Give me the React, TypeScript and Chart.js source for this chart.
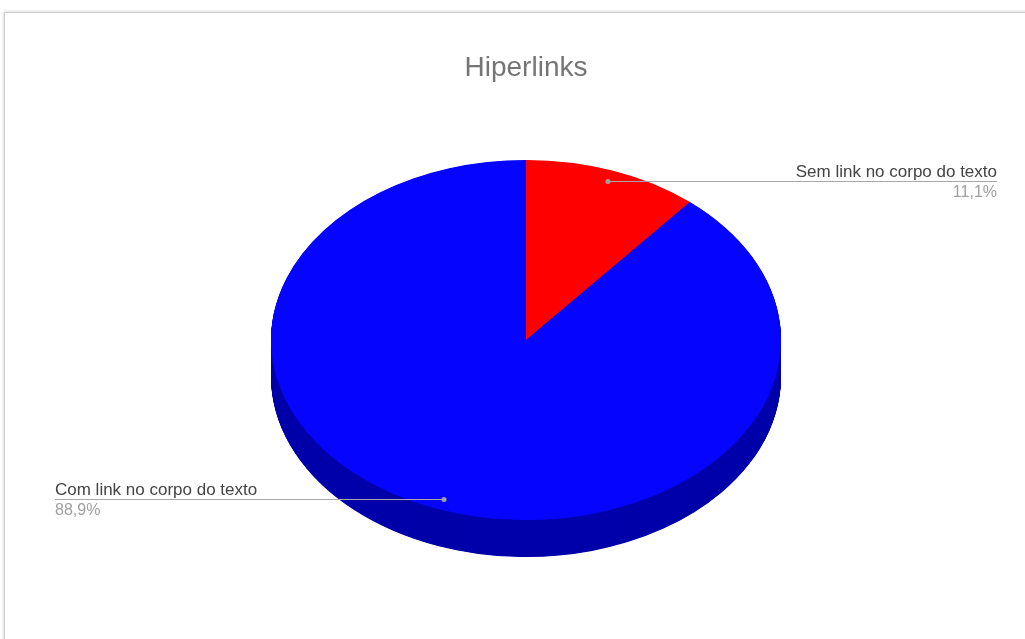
import React, { useEffect, useRef } from 'react';
import { Chart, registerables } from 'chart.js';

Chart.register(...registerables);

const TITLE = 'Hiperlinks';
const categories = ['Sem link no corpo do texto', 'Com link no corpo do texto'];
const values = [1, 8];
const topColors = ['#ff0000', '#0505ff'];
const sideColors = ['#b00000', '#0000aa'];

const CANVAS_W = 1052;
const CANVAS_H = 639;
const TILT = 0.706;
const DEPTH = 37;
const LABEL_LEFT_X = 55;
const LABEL_RIGHT_X = 997;
const FONT = "'Liberation Sans', Arial, sans-serif";

function pctLabel(v: number, total: number) {
  return (v / total * 100).toFixed(1).replace('.', ',') + '%';
}

const pie3d = {
  id: 'pie3d',
  beforeDatasetsDraw(chart: any) {
    const arcs = chart.getDatasetMeta(0).data;
    chart.$pie3dSaved = false;
    if (!arcs.length) return;
    const cx = arcs[0].x;
    const cy = arcs[0].y;
    const ctx = chart.ctx;
    for (let d = DEPTH; d > 0; d -= 0.5) {
      ctx.save();
      ctx.translate(cx, cy + d);
      ctx.scale(1, TILT);
      ctx.translate(-cx, -cy);
      arcs.forEach((arc: any, i: number) => {
        const orig = arc.options;
        arc.options = { ...orig, backgroundColor: sideColors[i], borderWidth: 0 };
        arc.draw(ctx);
        arc.options = orig;
      });
      ctx.restore();
    }
    ctx.save();
    ctx.translate(cx, cy);
    ctx.scale(1, TILT);
    ctx.translate(-cx, -cy);
    chart.$pie3dSaved = true;
  },
  afterDatasetsDraw(chart: any) {
    if (chart.$pie3dSaved) chart.ctx.restore();
    chart.$pie3dSaved = false;
  },
};

const pieLabels = {
  id: 'pieLabels',
  afterDraw(chart: any) {
    const ctx = chart.ctx;
    const arcs = chart.getDatasetMeta(0).data;
    const total = values.reduce((a, b) => a + b, 0);
    arcs.forEach((arc: any, i: number) => {
      const mid = (arc.startAngle + arc.endAngle) / 2;
      const r = arc.outerRadius * 0.94;
      const px = arc.x + Math.cos(mid) * r;
      const py = Math.round(arc.y + Math.sin(mid) * r * TILT) + 0.5;
      const right = Math.cos(mid) >= 0;
      const ax = right ? LABEL_RIGHT_X : LABEL_LEFT_X;
      ctx.save();
      ctx.strokeStyle = '#a8a8a8';
      ctx.lineWidth = 1;
      ctx.beginPath();
      ctx.moveTo(px, py);
      ctx.lineTo(ax, py);
      ctx.stroke();
      ctx.fillStyle = '#a0a0a0';
      ctx.beginPath();
      ctx.arc(px, py, 2.5, 0, Math.PI * 2);
      ctx.fill();
      ctx.textAlign = right ? 'right' : 'left';
      ctx.textBaseline = 'alphabetic';
      ctx.font = `17px ${FONT}`;
      ctx.fillStyle = '#444444';
      ctx.fillText(categories[i], ax, py - 5);
      ctx.font = `16px ${FONT}`;
      ctx.fillStyle = '#a0a0a0';
      ctx.fillText(pctLabel(values[i], total), ax, py + 15);
      ctx.restore();
    });
  },
};

export default function App() {
  const ref = useRef<HTMLCanvasElement | null>(null);
  useEffect(() => {
    if (!ref.current) return;
    const chart = new Chart(ref.current, {
      type: 'pie',
      data: {
        labels: categories,
        datasets: [
          {
            data: values,
            backgroundColor: topColors,
            borderWidth: 0,
            clip: false as any,
          },
        ],
      },
      options: {
        responsive: false,
        animation: false,
        events: [],
        layout: { padding: { left: 271, right: 271, top: 0, bottom: 44 } },
        plugins: {
          legend: { display: false },
          tooltip: { enabled: false },
          title: {
            display: true,
            text: TITLE,
            color: '#757575',
            font: { family: FONT, size: 28, weight: 'normal' as any, lineHeight: 1.1 },
            padding: { top: 53, bottom: 1.2 },
          },
        },
      },
      plugins: [pie3d, pieLabels],
    });
    return () => chart.destroy();
  }, []);

  return (
    <div
      style={{
        position: 'fixed',
        left: 0,
        top: 0,
        width: 1025,
        height: 639,
        overflow: 'hidden',
        background: '#ffffff',
      }}
    >
      <div
        style={{
          position: 'absolute',
          left: 4,
          top: 12,
          width: 1200,
          height: 800,
          border: '1px solid #cfcfcf',
          boxShadow: '0 0 3px rgba(0,0,0,0.25)',
        }}
      />
      <canvas
        ref={ref}
        width={CANVAS_W}
        height={CANVAS_H}
        style={{ position: 'absolute', left: 0, top: 0, width: CANVAS_W, height: CANVAS_H }}
      />
    </div>
  );
}
